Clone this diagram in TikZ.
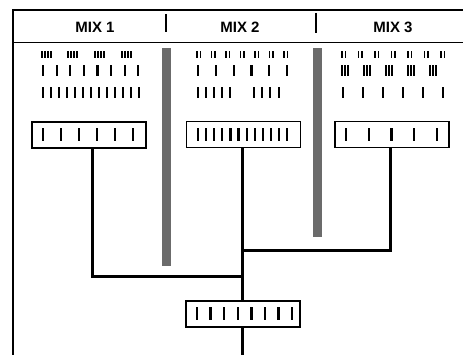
\documentclass[tikz,border=0pt]{standalone}
\usepackage{fontspec}
\setmainfont{Liberation Sans}
\begin{document}
\begin{tikzpicture}[x=1pt,y=-1pt,
  hdr/.style={font=\bfseries\fontsize{15}{17}\selectfont, inner sep=0pt},
  gelbox/.style={draw, line width=1.2pt, minimum width=114pt, minimum height=26pt, inner sep=0pt},
  stem/.style={line width=3pt},
  frame/.style={line width=1.2pt},
  stipple/.style={fill=black!58}]
\useasboundingbox (0,0) rectangle (463,355);
% frame
\draw[frame] (463,10) -- (13,10) -- (13,355);
\draw[line width=1pt] (13,43) -- (463,43);
\draw[line width=1.6pt] (166,14) -- (166,32);
\draw[line width=1.6pt] (316,13) -- (316,33);
% headers
\node[hdr] (h1) at (95,27) {MIX 1};
\node[hdr] (h2) at (240,27) {MIX 2};
\node[hdr] (h3) at (393,27) {MIX 3};
% gray separators
\fill[stipple] (162,48) rectangle (171,266);
\fill[stipple] (313,48) rectangle (322,237);
% tick rows
\newcommand\bars[3]{\foreach \xx in {#1} {\fill (\xx-1.1,#2) rectangle (\xx+1.1,#3);}}
\newcommand\thinbars[3]{\foreach \xx in {#1} {\fill (\xx-0.8,#2) rectangle (\xx+0.8,#3);}}
% mix 1
\foreach \g in {42,68,95,122} {\thinbars{\g,\g+3,\g+6,\g+9}{51}{58}}
\foreach \k in {0,...,7} {\bars{43+\k*13.6}{65}{76}}
\foreach \k in {0,...,12} {\bars{43+\k*8}{87}{98}}
% mix 2
\foreach \k in {0,...,6} {\thinbars{197+\k*14.5,200.5+\k*14.5}{51}{58}}
\foreach \k in {0,...,5} {\bars{198+\k*17.8}{65}{76}}
\bars{198,206,214,222,230,254,262,270,279}{87}{98}
% mix 3
\foreach \k in {0,...,6} {\thinbars{342+\k*16.5,345.5+\k*16.5}{51}{58}}
\foreach \k in {0,...,4} {\thinbars{342+\k*22,345+\k*22,348+\k*22}{65}{76}}
\foreach \k in {0,...,5} {\bars{343+\k*20}{87}{98}}
% boxes
\node[gelbox] (b1) at (89,135) {};
\node[gelbox] (b2) at (243.5,134.5) {};
\node[gelbox] (b3) at (392,134.5) {};
\node[gelbox] (b4) at (243,314) {};
\foreach \k in {0,...,5} {\fill (43+\k*18-1.2,128) rectangle (43+\k*18+1.2,141);}
\foreach \k in {0,...,11} {\fill (198+\k*8.1-1.1,128) rectangle (198+\k*8.1+1.1,141);}
\foreach \k in {0,...,4} {\fill (346+\k*22.75-1.2,128) rectangle (346+\k*22.75+1.2,141);}
\foreach \k in {0,...,7} {\fill (197+\k*13.6-1.2,307) rectangle (197+\k*13.6+1.2,320);}
% connectors
\coordinate (j1) at (242.5,277);
\coordinate (j2) at (242.5,251);
\coordinate (end) at (242.5,355);
\draw[stem] ([xshift=3.5pt]b1.south) |- (j1);
\draw[stem] ([xshift=-1.5pt]b3.south) |- (j2);
\draw[stem] ([xshift=-1pt]b2.south) -- ([xshift=-0.5pt]b4.north);
\draw[stem] ([xshift=-0.5pt]b4.south) -- (end);
\end{tikzpicture}
\end{document}
